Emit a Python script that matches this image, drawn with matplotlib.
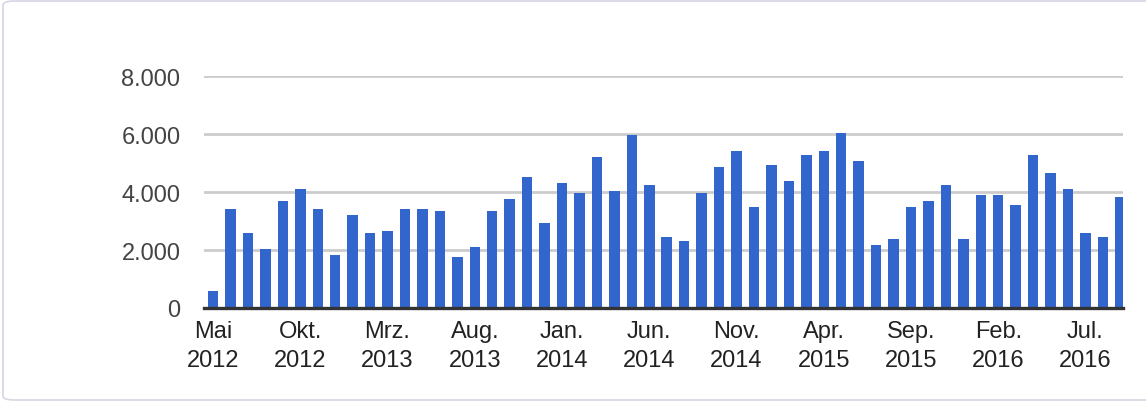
import matplotlib.pyplot as plt
from matplotlib.patches import FancyBboxPatch

# monthly values, Mai 2012 .. Sep 2016
values = [590, 3420, 2600, 2040, 3690, 4100, 3420, 1830, 3210, 2590,
          2660, 3420, 3420, 3350, 1760, 2100, 3350, 3760, 4520, 2930,
          4310, 3970, 5210, 4030, 5970, 4240, 2450, 2310, 3970, 4860,
          5410, 3480, 4930, 4380, 5280, 5410, 6030, 5070, 2170, 2380,
          3480, 3690, 4240, 2380, 3900, 3900, 3550, 5280, 4660, 4100,
          2590, 2450, 3830]
tickLabels = ["Mai\n2012", "Okt.\n2012", "Mrz.\n2013", "Aug.\n2013", "Jan.\n2014",
              "Jun.\n2014", "Nov.\n2014", "Apr.\n2015", "Sep.\n2015", "Feb.\n2016",
              "Jul.\n2016"]
yTicks = [0, 2000, 4000, 6000, 8000]
yLabels = ["0", "2.000", "4.000", "6.000", "8.000"]

plt.rcParams['font.family'] = ['Liberation Sans', 'DejaVu Sans']

fig = plt.figure(figsize=(11.46, 4.02), dpi=100)
ax = fig.add_axes([204/1146, 93/402, (1123-204)/1146, (309-77.3)/402])

xs = list(range(len(values)))
ax.bar(xs, values, width=0.6, color='#3366cc', zorder=3)

ax.set_xlim(-0.52, len(values) - 0.85)
ax.set_ylim(0, 8000)
ax.set_yticks(yTicks)
ax.set_yticklabels(yLabels, color='#444444', fontsize=17)
ax.set_xticks(xs[::5])
ax.set_xticklabels(tickLabels, color='#222222', fontsize=17, linespacing=1.4)
ax.tick_params(axis='both', length=0)
ax.tick_params(axis='y', pad=17)
ax.tick_params(axis='x', pad=9)

ax.grid(axis='y', color='#cccccc', linewidth=2.0, zorder=0)
for s in ['top', 'right', 'left']:
    ax.spines[s].set_visible(False)
ax.spines['bottom'].set_color('#333333')
ax.spines['bottom'].set_linewidth(2.4)
ax.spines['bottom'].set_zorder(4)

# light frame around the chart card
frame = FancyBboxPatch((3/1146, 1/402), 1.2, (400-1)/402,
                       boxstyle="round,pad=0,rounding_size=0.01",
                       transform=fig.transFigure, facecolor='none',
                       edgecolor='#d6d6e4', linewidth=1.2)
fig.patches.append(frame)

fig.savefig('out.png', dpi=100, facecolor='white')
